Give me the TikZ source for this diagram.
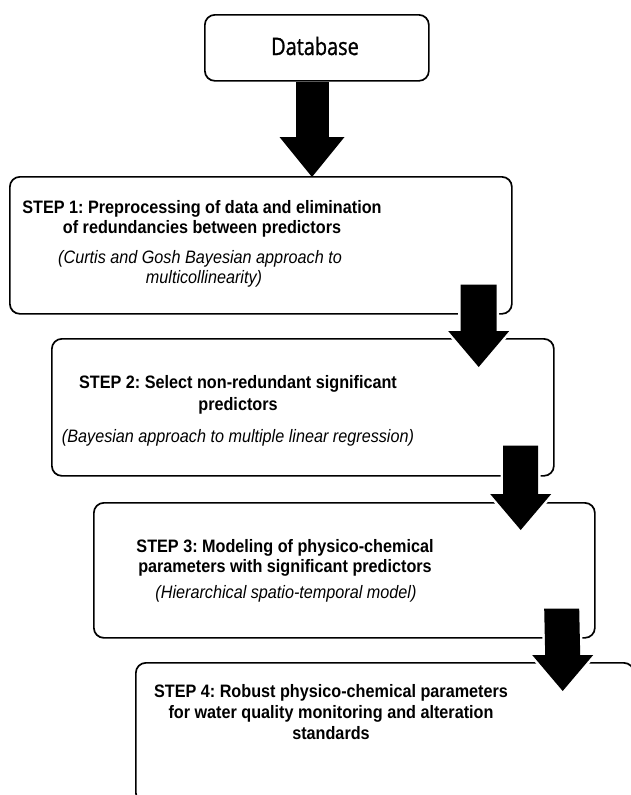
\documentclass[tikz,border=0pt]{standalone}
\usepackage{fontspec}
\setmainfont[FakeStretch=0.9]{Liberation Sans}
\newfontfamily\dbfont[FakeStretch=0.83,FakeBold=1.2]{Open Sans}
\usetikzlibrary{calc}
\frenchspacing
\tikzset{
  box/.style={draw=black, line width=1.7pt, rounded corners=10pt, fill=white, anchor=north west, inner sep=0pt},
  headtxt/.style={anchor=base, inner sep=0pt, font=\fontsize{18}{20}\selectfont\bfseries},
  subtxt/.style={anchor=base, inner sep=0pt, font=\fontsize{18}{20}\selectfont\itshape},
  blkhalo/.style={draw=white, line width=5pt, line join=miter},
}
\newcommand{\blkarrow}[4]{% start, tip, shaft half width, head half width
  \path[blkhalo] (#2) -- ([shift={(-#4,-36)}]#2) -- ([shift={(-#3,-36)}]#2) -- ([shift={(-#3,0)}]#1) -- ([shift={(#3,0)}]#1) -- ([shift={(#3,-36)}]#2) -- ([shift={(#4,-36)}]#2) -- cycle;
  \fill[black] (#2) -- ([shift={(-#4,-36)}]#2) -- ([shift={(-#3,-36)}]#2) -- ([shift={(-#3,0)}]#1) -- ([shift={(#3,0)}]#1) -- ([shift={(#3,-36)}]#2) -- ([shift={(#4,-36)}]#2) -- cycle;
}
\begin{document}
\begin{tikzpicture}[x=1pt,y=-1pt]
\useasboundingbox (0,0) rectangle (630,795);
\fill[white] (0,0) rectangle (630,795);

% boxes
\node[box, minimum width=224, minimum height=66] (db) at (204,14) {};
\node[box, minimum width=502, minimum height=137] (s1) at (9,176) {};
\node[box, minimum width=502, minimum height=137] (s2) at (51,338) {};
\node[box, minimum width=501, minimum height=135] (s3) at (93,502) {};
\node[box, minimum width=498, minimum height=140] (s4) at (135,662) {};

% texts
\node[anchor=base, inner sep=0pt, font=\dbfont\fontsize{24}{28}\selectfont] (dbt) at (315,55) {Database};

\node[headtxt] (s1a) at (202,213) {STEP 1: Preprocessing of data and elimination};
\node[headtxt] (s1b) at (202,233) {of redundancies between predictors};
\node[subtxt] (s1c) at (200,263) {(Curtis and Gosh Bayesian approach to};
\node[subtxt] (s1d) at (204,283) {multicollinearity)};

\node[headtxt] (s2a) at (238,388) {STEP 2: Select non-redundant significant};
\node[headtxt] (s2b) at (238,410) {predictors};
\node[subtxt] (s2c) at (238,442) {(Bayesian approach to multiple linear regression)};

\node[headtxt] (s3a) at (285,552) {STEP 3: Modeling of physico-chemical};
\node[headtxt] (s3b) at (285,572) {parameters with significant predictors};
\node[subtxt] (s3c) at (286,598) {(Hierarchical spatio-temporal model)};

\node[headtxt] (s4a) at (331,697) {STEP 4: Robust physico-chemical parameters};
\node[headtxt] (s4b) at (331,718) {for water quality monitoring and alteration};
\node[headtxt] (s4c) at (331,739) {standards};

% arrows
\coordinate (a1t) at ($(s1.north west)+(303,1)$);
\coordinate (a2s) at ($(s1.south east)+(-34,-30)$);
\coordinate (a2t) at ($(s2.north east)+(-76,29)$);
\coordinate (a3s) at ($(s2.south east)+(-34,-31)$);
\coordinate (a3t) at ($(s3.north east)+(-75,28)$);
\coordinate (a4s) at ($(s3.south east)+(-34,-30)$);
\coordinate (a4t) at ($(s4.north east)+(-72,29)$);

\fill[black] ([shift={(-16.5,0)}]db.south -| a1t) rectangle ([shift={(16.5,-40)}]a1t);
\fill[black] (a1t) -- ([shift={(-32.5,-40)}]a1t) -- ([shift={(32.5,-40)}]a1t) -- cycle;
\blkarrow{a2s}{a2t}{18}{30.5}
\blkarrow{a3s}{a3t}{17.5}{30.5}
\blkarrow{a4s}{a4t}{17.5}{30.5}
\end{tikzpicture}
\end{document}
